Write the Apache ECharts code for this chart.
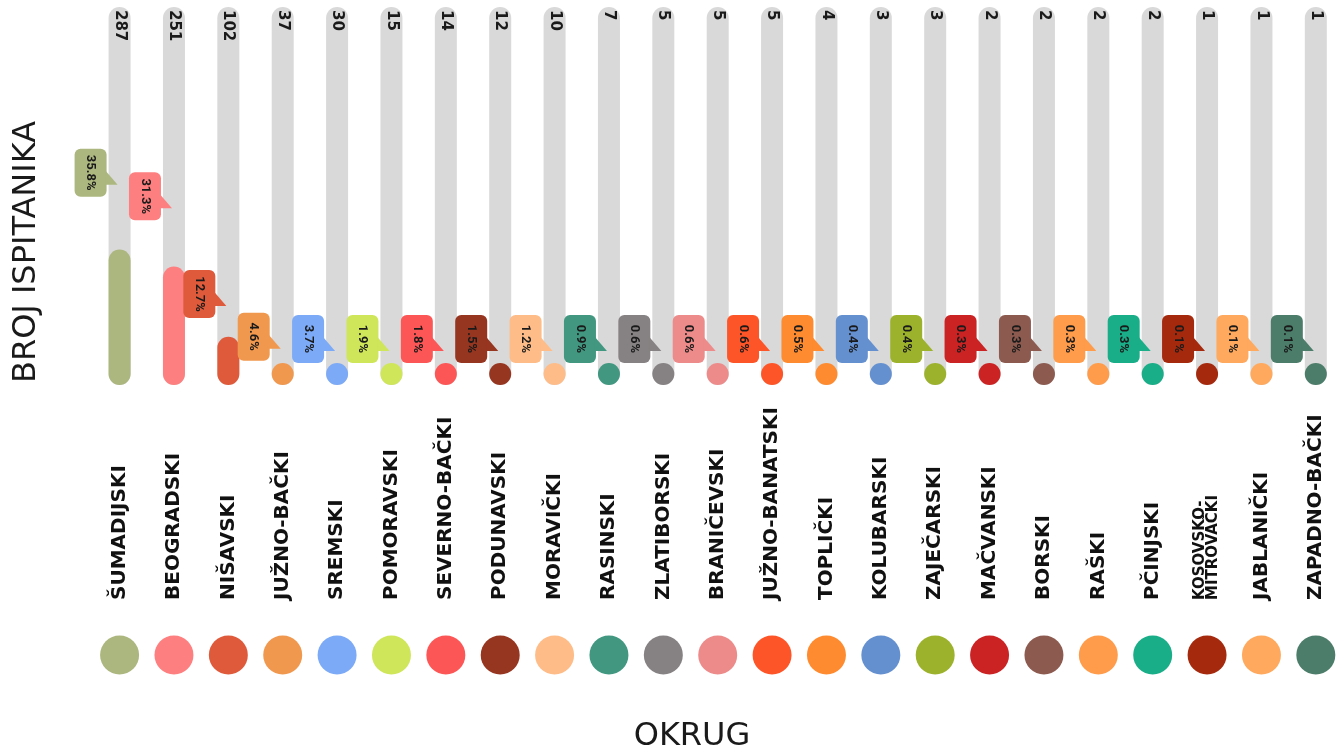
<!DOCTYPE html>
<html>
<head>
<meta charset="utf-8">
<script src="https://cdn.jsdelivr.net/npm/echarts@6/dist/echarts.min.js"></script>
<style>
  html, body { margin: 0; padding: 0; background: #ffffff; }
  #chart { width: 1343px; height: 752px; }
</style>
</head>
<body>
<div id="chart"></div>
<script>
const categories = ['ŠUMADIJSKI','BEOGRADSKI','NIŠAVSKI','JUŽNO-BAČKI','SREMSKI','POMORAVSKI','SEVERNO-BAČKI','PODUNAVSKI','MORAVIČKI','RASINSKI','ZLATIBORSKI','BRANIČEVSKI','JUŽNO-BANATSKI','TOPLIČKI','KOLUBARSKI','ZAJEČARSKI','MAČVANSKI','BORSKI','RAŠKI','PČINJSKI','KOSOVSKO-\nMITROVAČKI','JABLANIČKI','ZAPADNO-BAČKI'];
const counts = [287,251,102,37,30,15,14,12,10,7,5,5,5,4,3,3,2,2,2,2,1,1,1];
const percents = ['35.8','31.3','12.7','4.6','3.7','1.9','1.8','1.5','1.2','0.9','0.6','0.6','0.6','0.5','0.4','0.4','0.3','0.3','0.3','0.3','0.1','0.1','0.1'];
const colors = ['#acb77f','#fe7f7f','#df5a3b','#f1984f','#7caaf6','#cfe55a','#fd5656','#963520','#febc88','#41977f','#868182','#ed8b8b','#fe5528','#fe8b2f','#6590d0','#9db22c','#cb2224','#8c5a4f','#fe9c4b','#1aae88','#a4290d','#fea95d','#4c7c6a'];
const yTitle = 'BROJ ISPITANIKA';
const xTitle = 'OKRUG';

const total = counts.reduce((a, b) => a + b, 0);
const BUBBLE_AXIS_MAX = 576;

const chart = echarts.init(document.getElementById('chart'), null, { renderer: 'canvas' });

const option = {
  animation: false,
  backgroundColor: '#ffffff',
  grid: [
    { left: 92.4, width: 1269.6, top: 7, height: 378 },
    { left: 92.4, width: 1269.6, top: 635, height: 40 }
  ],
  xAxis: [
    {
      type: 'category', gridIndex: 0, data: categories,
      axisLine: { show: false }, axisTick: { show: false },
      axisLabel: {
        interval: 0, rotate: 90, margin: 215, align: 'left', verticalAlign: 'middle',
        fontFamily: 'DejaVu Sans', fontWeight: 'bold', fontSize: 20, color: '#111111',
        formatter: v => v.indexOf('\n') >= 0 ? v.split('\n').map(s => '{s|' + s + '}').join('\n') : v,
        rich: { s: { fontFamily: 'DejaVu Sans', fontWeight: 'bold', fontSize: 15, lineHeight: 13, color: '#111111' } }
      }
    },
    { type: 'category', gridIndex: 1, data: categories, show: false }
  ],
  yAxis: [
    { type: 'value', gridIndex: 0, min: 0, max: total, show: false },
    { type: 'value', gridIndex: 0, min: 0, max: BUBBLE_AXIS_MAX, show: false },
    { type: 'value', gridIndex: 1, min: -1, max: 1, show: false }
  ],
  series: [
    {
      type: 'bar', xAxisIndex: 0, yAxisIndex: 0,
      data: counts.map((v, i) => ({ value: v, itemStyle: { color: colors[i] } })),
      barWidth: 22, barMinHeight: 22,
      itemStyle: { borderRadius: 11 },
      showBackground: true,
      backgroundStyle: { color: '#d9d9d9', borderRadius: 11 },
      z: 2
    },
    {
      type: 'custom', xAxisIndex: 0, yAxisIndex: 0, z: 5,
      data: counts.map((v, i) => [i, v]),
      renderItem: function (params, api) {
        const i = api.value(0);
        const x = api.coord([i, 0])[0];
        const top = params.coordSys.y;
        return {
          type: 'text', x: x, y: top + 3, rotation: -Math.PI / 2,
          style: {
            text: String(counts[i]), x: 0, y: 0, align: 'left', verticalAlign: 'middle',
            font: 'bold 15px "DejaVu Sans"', fill: '#1a1a1a'
          }
        };
      }
    },
    {
      type: 'custom', xAxisIndex: 0, yAxisIndex: 1, z: 6,
      data: counts.map((v, i) => [i, v]),
      renderItem: function (params, api) {
        const i = api.value(0);
        const c = api.coord([i, api.value(1)]);
        const base = api.coord([i, 0])[1];
        const by = Math.min(c[1], base - 22);
        const cx = c[0] - 29;
        const w = 32, h = 48;
        const col = colors[i];
        return {
          type: 'group',
          children: [
            { type: 'rect', shape: { x: cx - w / 2, y: by - h, width: w, height: h, r: 6 }, style: { fill: col } },
            { type: 'polygon', shape: { points: [[cx + w / 2 - 1, by - 26], [cx + w / 2 + 11, by - 12], [cx + w / 2 - 1, by - 12]] }, style: { fill: col } },
            {
              type: 'text', x: cx, y: by - h / 2, rotation: -Math.PI / 2,
              style: {
                text: percents[i] + '%', x: 0, y: 0, align: 'center', verticalAlign: 'middle',
                font: 'bold 13px Roboto', fill: '#1a1a1a'
              }
            }
          ]
        };
      }
    },
    {
      type: 'scatter', xAxisIndex: 1, yAxisIndex: 2, symbolSize: 39,
      data: categories.map((c, i) => ({ value: [i, 0], itemStyle: { color: colors[i], opacity: 1 } }))
    }
  ],
  graphic: [
    {
      type: 'text', x: 27, y: 252, rotation: Math.PI / 2,
      style: { text: yTitle, x: 0, y: 0, align: 'center', verticalAlign: 'middle', font: '32px "DejaVu Sans"', fill: '#1a1a1a' }
    },
    {
      type: 'text', x: 692, y: 737,
      style: { text: xTitle, x: 0, y: 0, align: 'center', verticalAlign: 'middle', font: '32px "DejaVu Sans"', fill: '#1a1a1a' }
    }
  ]
};

chart.setOption(option);
</script>
</body>
</html>
